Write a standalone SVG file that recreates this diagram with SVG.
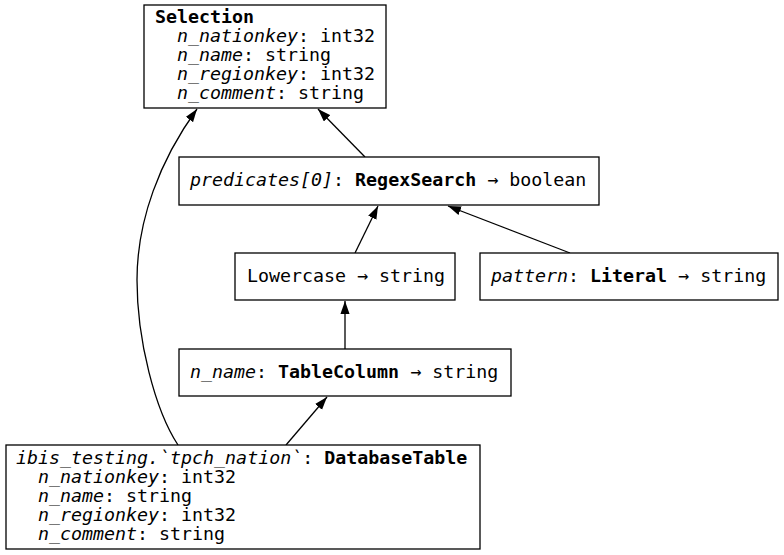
<svg xmlns="http://www.w3.org/2000/svg" width="784" height="555" viewBox="0 0 784 555">
<style>
  .box{fill:#fff;stroke:#000;stroke-width:1.3}
  text{font-family:"DejaVu Sans Mono","Liberation Mono",monospace;font-size:18.3px;fill:#000}
  .i{font-style:italic}
  .b{font-weight:bold}
  .edge{fill:none;stroke:#000;stroke-width:1.3;marker-end:url(#arr)}
</style>
<defs>
  <marker id="arr" viewBox="0 0 10 7" refX="10" refY="3.5" markerUnits="userSpaceOnUse" markerWidth="13" markerHeight="9.5" orient="auto">
    <path d="M0,0 L10,3.5 L0,7 z" fill="#000"/>
  </marker>
</defs>
<rect width="784" height="555" fill="#fff"/>
<g id="connectors">
  <path class="edge" d="M365,157 L318,109"/>
  <path class="edge" d="M355,253 L378,206"/>
  <path class="edge" d="M570,253 L448,206"/>
  <path class="edge" d="M345,349 L345,301"/>
  <path class="edge" d="M286,445 L327,397"/>
  <path class="edge" d="M178,445 C155,410 137,340 137,280 C137,220 160,160 197,109"/>
</g>
<g id="selection">
  <rect class="box" x="144" y="5" width="242" height="103"/>
  <text x="155" y="23" class="b">Selection</text>
  <text x="177" y="42"><tspan class="i">n_nationkey</tspan>: int32</text>
  <text x="177" y="61"><tspan class="i">n_name</tspan>: string</text>
  <text x="177" y="80"><tspan class="i">n_regionkey</tspan>: int32</text>
  <text x="177" y="99"><tspan class="i">n_comment</tspan>: string</text>
</g>
<g id="predicates">
  <rect class="box" x="179" y="157" width="420" height="48"/>
  <text x="190" y="186"><tspan class="i">predicates[0]</tspan>: <tspan class="b">RegexSearch</tspan> → boolean</text>
</g>
<g id="lowercase">
  <rect class="box" x="235" y="253" width="220" height="47"/>
  <text x="247" y="282">Lowercase → string</text>
</g>
<g id="pattern">
  <rect class="box" x="480" y="253" width="298" height="47"/>
  <text x="491" y="282"><tspan class="i">pattern</tspan>: <tspan class="b">Literal</tspan> → string</text>
</g>
<g id="n_name">
  <rect class="box" x="179" y="349" width="332" height="47"/>
  <text x="190" y="378"><tspan class="i">n_name</tspan>: <tspan class="b">TableColumn</tspan> → string</text>
</g>
<g id="database_table">
  <rect class="box" x="6" y="445" width="474" height="104"/>
  <text x="16" y="464"><tspan class="i">ibis_testing.`tpch_nation`</tspan>: <tspan class="b">DatabaseTable</tspan></text>
  <text x="38" y="483"><tspan class="i">n_nationkey</tspan>: int32</text>
  <text x="38" y="502"><tspan class="i">n_name</tspan>: string</text>
  <text x="38" y="521"><tspan class="i">n_regionkey</tspan>: int32</text>
  <text x="38" y="540"><tspan class="i">n_comment</tspan>: string</text>
</g>
</svg>
